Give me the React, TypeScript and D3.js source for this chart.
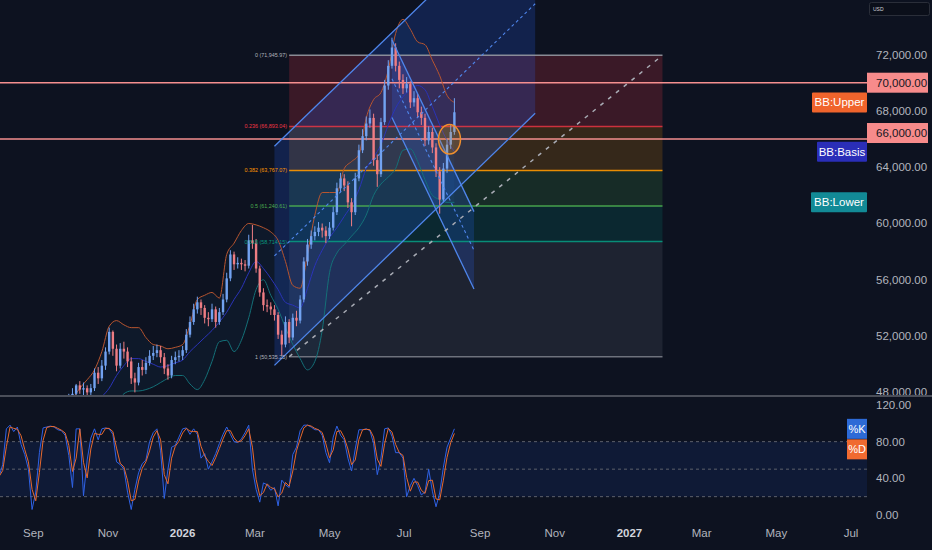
import React, { useEffect, useRef } from "react";
import * as d3 from "d3";

const WIDTH = 932;
const HEIGHT = 550;
const BG = "#0d1220";

// 3-day bars, prices in thousands of USD
const candleStart = new Date(2025, 8, 30);
const firstOpen = 47.3;
const closes = [
  47.6, 47.9, 48.5, 48.2, 48.3, 48.0, 48.3, 49.4, 49.0, 49.9,
  50.9, 52.3, 51.1, 49.9, 51.1, 50.9, 50.2, 49.0, 48.7, 49.8,
  49.6, 50.1, 50.6, 50.8, 51.0, 50.5, 49.7, 49.2, 50.3, 50.5,
  50.6, 51.0, 52.1, 53.0, 53.9, 54.4, 54.0, 53.3, 53.2, 53.9,
  53.0, 53.7, 54.6, 56.1, 57.8, 57.1, 57.2, 57.1, 57.0, 58.8,
  58.6, 56.8, 55.1, 54.2, 54.1, 53.9, 53.5, 52.1, 51.4, 53.0,
  51.9, 53.3, 53.1, 54.6, 57.3, 58.5, 59.1, 59.4, 59.7, 59.5,
  59.1, 59.7, 60.8, 62.5, 63.2, 62.7, 61.5, 60.8, 63.2, 65.2,
  66.2, 67.1, 67.5, 64.5, 63.5, 67.2, 69.8, 71.2, 72.5, 71.2,
  70.2, 69.6, 69.9, 68.6, 68.9, 67.9, 67.5, 65.9, 66.5, 65.4,
  63.7, 61.7, 63.9, 65.6, 66.5, 67.9,
];
const highs = [
  47.9, 48.3, 48.6, 48.8, 48.7, 48.5, 48.6, 49.7, 49.8, 50.3,
  51.2, 52.6, 52.4, 51.4, 51.5, 51.6, 51.2, 50.5, 49.4, 50.1,
  50.3, 50.5, 51.0, 51.3, 51.4, 51.3, 50.8, 50.0, 50.6, 50.9,
  51.0, 51.3, 52.5, 53.4, 54.3, 54.8, 54.6, 54.2, 53.7, 54.3,
  54.1, 54.0, 55.0, 56.5, 58.1, 58.0, 57.6, 57.5, 57.4, 59.2,
  59.9, 58.9, 57.0, 55.4, 54.6, 54.4, 54.2, 53.7, 52.4, 53.4,
  53.2, 53.6, 53.8, 54.9, 57.6, 58.9, 59.5, 59.8, 60.1, 60.0,
  59.8, 60.1, 61.2, 62.9, 63.6, 63.5, 63.0, 61.8, 63.6, 65.6,
  66.7, 67.6, 68.1, 67.8, 64.9, 67.5, 70.2, 71.6, 73.2, 72.8,
  71.5, 70.6, 70.4, 70.1, 69.4, 69.2, 68.3, 67.8, 66.9, 66.8,
  65.7, 64.0, 64.3, 66.0, 67.0, 68.9,
];
const lows = [
  47.0, 47.4, 47.7, 47.9, 47.8, 47.6, 47.8, 48.1, 48.6, 48.8,
  49.6, 50.7, 50.6, 49.5, 49.7, 50.4, 49.8, 48.6, 48.0, 48.5,
  49.2, 49.3, 49.9, 50.3, 50.5, 50.1, 49.3, 48.9, 49.0, 50.0,
  50.2, 50.3, 50.8, 51.9, 52.8, 53.6, 53.5, 52.9, 52.7, 53.0,
  52.6, 52.8, 53.5, 54.4, 55.9, 56.7, 56.8, 56.7, 56.6, 56.8,
  58.2, 56.5, 54.8, 53.8, 53.7, 53.5, 53.1, 51.8, 50.6, 51.2,
  51.5, 51.7, 52.7, 52.9, 54.4, 57.0, 58.2, 58.8, 59.1, 59.0,
  58.6, 58.9, 59.5, 60.6, 62.2, 62.3, 61.1, 59.8, 60.6, 63.0,
  65.0, 65.9, 66.8, 64.1, 62.6, 63.3, 67.0, 69.5, 71.0, 70.8,
  69.6, 69.2, 69.3, 68.2, 68.3, 67.5, 67.0, 65.5, 65.6, 65.0,
  63.3, 60.7, 61.5, 63.6, 65.3, 66.3,
];

// Bollinger Bands read on every other bar (odd bars)
const bbUpper = [
  47.5, 48.3, 48.9, 49.6, 50.9, 52.7, 53.1, 52.8, 52.6, 52.6,
  51.9, 51.4, 51.3, 51.1, 51.2, 51.4, 52.8, 54.6, 54.9, 55.1,
  54.7, 57.8, 58.6, 59.5, 60.0, 59.9, 59.7, 59.4, 58.8, 57.3,
  55.6, 55.4, 57.8, 60.6, 62.2, 62.2, 62.2, 63.9, 64.4, 64.9,
  67.5, 68.8, 69.3, 70.9, 73.5, 74.5, 73.8, 72.9, 72.7, 71.6,
  70.5, 69.1, 68.6,
];
const bbBasis = [
  46.8, 46.8, 46.9, 47.2, 47.7, 48.3, 49.2, 49.9, 50.4, 50.4,
  50.2, 50.0, 49.8, 49.9, 50.1, 50.3, 50.9, 51.4, 51.9, 52.4,
  53.0, 53.7, 54.6, 55.4, 56.5, 57.3, 56.8, 56.1, 55.3, 54.4,
  54.2, 54.0, 55.4, 57.0, 58.1, 59.0, 59.7, 60.5, 61.3, 62.4,
  63.9, 64.7, 65.6, 67.0, 68.2, 69.0, 69.5, 69.8, 69.5, 68.3,
  67.0, 65.9, 65.1,
];
const bbLower = [
  45.6, 45.5, 45.4, 45.4, 45.6, 46.1, 47.0, 47.9, 48.1, 48.1,
  48.2, 48.4, 48.7, 49.0, 49.2, 49.2, 48.6, 48.2, 48.9, 50.2,
  51.6, 51.7, 50.9, 51.7, 53.3, 55.3, 56.0, 54.9, 53.9, 52.6,
  51.4, 50.4, 49.6, 50.2, 52.4, 56.5, 57.9, 58.5, 59.1, 59.7,
  60.6, 62.0, 62.8, 63.3, 63.9, 65.2, 65.3, 64.4, 63.1, 62.0,
  61.7, 61.5, 61.5,
];

// Stochastic %K, 3-day samples
const stochStart = new Date(2025, 7, 4);
const stochK = [
  42, 55, 94, 98, 91, 96, 77, 66, 50, 6,
  25, 68, 95, 96, 97, 96, 93, 92, 87, 65,
  30, 94, 94, 21, 60, 84, 94, 82, 94, 95,
  94, 88, 58, 55, 50, 25, 6, 28, 46, 56,
  60, 80, 90, 94, 70, 18, 50, 74, 76, 85,
  94, 95, 88, 94, 88, 62, 67, 50, 58, 67,
  78, 88, 96, 88, 80, 79, 83, 90, 98, 50,
  28, 14, 35, 33, 27, 30, 10, 38, 33, 30,
  66, 74, 92, 98, 98, 96, 93, 93, 87, 68,
  57, 85, 97, 87, 82, 62, 48, 72, 93, 93,
  94, 92, 78, 44, 62, 94, 95, 86, 68, 68,
  62, 20, 32, 40, 32, 22, 25, 50, 26, 9,
  24, 52, 74, 84, 94,
];

const priceTicks = [72, 68, 64, 60, 56, 52, 48];
const stochTicks = [120, 80, 40, 0];
const stochBands = [80, 50, 20];
const timeTicks = [
  new Date(2025, 8, 1), new Date(2025, 10, 1), new Date(2026, 0, 1),
  new Date(2026, 2, 1), new Date(2026, 4, 1), new Date(2026, 6, 1),
  new Date(2026, 8, 1), new Date(2026, 10, 1), new Date(2027, 0, 1),
  new Date(2027, 2, 1), new Date(2027, 4, 1), new Date(2027, 6, 1),
];
const timeLabels = ["Sep", "Nov", "2026", "Mar", "May", "Jul", "Sep", "Nov", "2027", "Mar", "May", "Jul"];

// Fib retracement drawing
const fibLevels = [0, 0.236, 0.382, 0.5, 0.618, 1];
const fibColors = ["#787b86", "#f23645", "#ff9800", "#4caf50", "#089981", "#787b86"];
const fibHigh = 71945.97;
const fibLow = 50535.25;
const fibStart = new Date(2026, 2, 29);
const fibEnd = new Date(2027, 0, 28);

// horizontal lines (thousands)
const hLines = [70, 66];

// parallel channels: start/end dates, base line values, width
const riseChannel = { start: new Date(2026, 2, 17), end: new Date(2026, 9, 16), from: 49.92, to: 67.83, width: 15.56 };
const fallChannel = { start: new Date(2026, 5, 21), end: new Date(2026, 7, 27), from: 73.03, to: 60.84, width: -5.5 };

const marker = { date: new Date(2026, 7, 7), price: 65.98, days: 9, span: 1.05 };

const App = () => {
  const svgRef = useRef<SVGSVGElement | null>(null);

  useEffect(() => {
    if (!svgRef.current) return;
    const svg = d3.select(svgRef.current);
    svg.selectAll("*").remove();

    const paneRight = 867;
    const priceBottom = 395;
    const stochTop = 398;
    const stochBottom = 521;
    const font = "Liberation Sans, Arial, sans-serif";

    const x = d3
      .scaleTime()
      .domain([new Date(2025, 8, 1), new Date(2027, 6, 1)])
      .range([33.3, 851]);
    const y = d3.scaleLinear().domain([48, 72]).range([392.4, 54.55]);
    const ys = d3.scaleLinear().domain([0, 120]).range([515, 405]);

    const candleDates = closes.map((_, i) => d3.timeDay.offset(candleStart, i * 3));
    const opens = closes.map((_, i) => (i === 0 ? firstOpen : closes[i - 1]));
    const bbDates = bbUpper.map((_, j) => candleDates[2 * j + 1]);
    const stochDates = stochK.map((_, j) => d3.timeDay.offset(stochStart, j * 3));
    // %D = short moving average of %K
    const stochD = stochK.map((_, j) => d3.mean(stochK.slice(Math.max(0, j - 1), j + 1)) as number);

    svg.append("rect").attr("width", WIDTH).attr("height", HEIGHT).attr("fill", BG);

    const defs = svg.append("defs");
    defs.append("clipPath").attr("id", "price-clip")
      .append("rect").attr("x", 0).attr("y", 0).attr("width", paneRight).attr("height", priceBottom);
    defs.append("clipPath").attr("id", "stoch-clip")
      .append("rect").attr("x", 0).attr("y", stochTop).attr("width", paneRight).attr("height", stochBottom - stochTop);
    defs.append("clipPath").attr("id", "axis-clip")
      .append("rect").attr("x", paneRight).attr("y", 0).attr("width", WIDTH - paneRight).attr("height", priceBottom);

    const price = svg.append("g").attr("clip-path", "url(#price-clip)");

    // fib zones
    const fibVal = (lvl: number) => fibHigh - lvl * (fibHigh - fibLow);
    const fx0 = x(fibStart);
    const fx1 = x(fibEnd);
    fibLevels.slice(1).forEach((lvl, k) => {
      const top = y(fibVal(fibLevels[k]) / 1000);
      const bottom = y(fibVal(lvl) / 1000);
      price.append("rect")
        .attr("x", fx0).attr("y", top)
        .attr("width", fx1 - fx0).attr("height", bottom - top)
        .attr("fill", fibColors[k + 1]).attr("fill-opacity", k === 0 ? 0.2 : 0.17);
    });

    // channel fills
    const pt = d3.line<[Date, number]>().x((d) => x(d[0])).y((d) => y(d[1]));
    [riseChannel, fallChannel].forEach((c) => {
      price.append("path")
        .attr("d", pt([
          [c.start, c.from], [c.end, c.to], [c.end, c.to + c.width], [c.start, c.from + c.width],
        ]) + "Z")
        .attr("fill", "#2962ff").attr("fill-opacity", 0.2);
    });

    // Bollinger background
    price.append("path")
      .datum(bbDates.map((d, j) => j))
      .attr("d", d3.area<number>().x((j) => x(bbDates[j])).y0((j) => y(bbLower[j])).y1((j) => y(bbUpper[j])).curve(d3.curveMonotoneX))
      .attr("fill", "#2196f3").attr("fill-opacity", 0.05);

    // fib level lines
    fibLevels.forEach((lvl, k) => {
      price.append("line")
        .attr("x1", fx0).attr("x2", fx1)
        .attr("y1", y(fibVal(lvl) / 1000)).attr("y2", y(fibVal(lvl) / 1000))
        .attr("stroke", k === 0 ? "#9598a1" : fibColors[k]).attr("stroke-width", 1.5)
        .attr("stroke-opacity", k === 1 ? 0.8 : 0.9);
    });

    // horizontal lines
    hLines.forEach((v) => {
      price.append("line")
        .attr("x1", 0).attr("x2", paneRight)
        .attr("y1", y(v)).attr("y2", y(v))
        .attr("stroke", "#f58f8f").attr("stroke-width", 1.6);
    });

    // Bollinger lines
    const bbLine = (vals: number[]) =>
      d3.line<number>().x((j) => x(bbDates[j])).y((j) => y(vals[j])).curve(d3.curveMonotoneX)(vals.map((_, j) => j));
    [
      { vals: bbUpper, color: "#b8552f" },
      { vals: bbBasis, color: "#2a33b8" },
      { vals: bbLower, color: "#147078" },
    ].forEach((b) => {
      price.append("path").attr("d", bbLine(b.vals)).attr("fill", "none")
        .attr("stroke", b.color).attr("stroke-width", 1);
    });

    // candles
    const bodyW = 2.4;
    const candles = price.append("g");
    const idx = closes.map((_, i) => i);
    const col = (i: number) => (closes[i] >= opens[i] ? "#72a2f0" : "#ee7d83");
    candles.selectAll("line").data(idx).join("line")
      .attr("x1", (i) => x(candleDates[i])).attr("x2", (i) => x(candleDates[i]))
      .attr("y1", (i) => y(highs[i])).attr("y2", (i) => y(lows[i]))
      .attr("stroke", col).attr("stroke-width", 1);
    candles.selectAll("rect").data(idx).join("rect")
      .attr("x", (i) => x(candleDates[i]) - bodyW / 2)
      .attr("width", bodyW)
      .attr("y", (i) => y(Math.max(opens[i], closes[i])))
      .attr("height", (i) => Math.max(1, Math.abs(y(opens[i]) - y(closes[i]))))
      .attr("fill", col);

    // channel lines
    [riseChannel, fallChannel].forEach((c) => {
      price.append("path").attr("d", pt([[c.start, c.from], [c.end, c.to]]))
        .attr("stroke", "#4f86ec").attr("stroke-width", 1.3).attr("fill", "none");
      price.append("path").attr("d", pt([[c.start, c.from + c.width], [c.end, c.to + c.width]]))
        .attr("stroke", "#4f86ec").attr("stroke-width", 1.3).attr("fill", "none");
      price.append("path").attr("d", pt([[c.start, c.from + c.width / 2], [c.end, c.to + c.width / 2]]))
        .attr("stroke", "#4f86ec").attr("stroke-width", 1.1).attr("stroke-dasharray", "3 3").attr("fill", "none");
    });

    // fib trend line
    price.append("path")
      .attr("d", pt([[fibStart, fibLow / 1000], [fibEnd, fibHigh / 1000]]))
      .attr("stroke", "#a9acb5").attr("stroke-width", 1.5).attr("stroke-dasharray", "4 6").attr("fill", "none");

    // ellipse marker
    const cx = x(marker.date);
    price.append("ellipse")
      .attr("cx", cx).attr("cy", y(marker.price))
      .attr("rx", x(d3.timeDay.offset(marker.date, marker.days)) - cx)
      .attr("ry", y(marker.price - marker.span) - y(marker.price))
      .attr("fill", "#ff9800").attr("fill-opacity", 0.2)
      .attr("stroke", "#f0902e").attr("stroke-width", 1.5);

    // fib labels
    fibLevels.forEach((lvl, k) => {
      price.append("text")
        .attr("x", fx0 - 2).attr("y", y(fibVal(lvl) / 1000))
        .attr("text-anchor", "end").attr("dominant-baseline", "central")
        .attr("fill", k === 0 || k === 5 ? "#b2b5be" : fibColors[k])
        .style("font-family", font).style("font-size", "5.4px")
        .text(`${lvl} (${d3.format(",.2f")(fibVal(lvl))})`);
    });

    // BB labels
    [
      { text: "BB:Upper", v: bbUpper[bbUpper.length - 1], fill: "#f0642c", w: 55 },
      { text: "BB:Basis", v: bbBasis[bbBasis.length - 1], fill: "#2a2eb8", w: 50 },
      { text: "BB:Lower", v: bbLower[bbLower.length - 1], fill: "#128a96", w: 56 },
    ].forEach((b) => {
      const cy = y(b.v);
      svg.append("rect").attr("x", paneRight - b.w).attr("y", cy - 10).attr("width", b.w).attr("height", 20)
        .attr("fill", b.fill).attr("rx", 1);
      svg.append("text").attr("x", paneRight - b.w / 2).attr("y", cy)
        .attr("text-anchor", "middle").attr("dominant-baseline", "central")
        .attr("fill", "#ffffff").style("font-family", font).style("font-size", "11.5px")
        .text(b.text);
    });

    // price axis
    const axis = svg.append("g").attr("clip-path", "url(#axis-clip)");
    axis.selectAll("text.tick").data(priceTicks).join("text")
      .attr("class", "tick")
      .attr("x", 876).attr("y", (d) => y(d))
      .attr("dominant-baseline", "central")
      .attr("fill", "#b2b5be").style("font-family", font).style("font-size", "11.5px")
      .text((d) => d3.format(",.2f")(d * 1000));
    hLines.forEach((v, k) => {
      const cy = y(v) + (k === 1 ? -6 : 0);
      axis.append("rect").attr("x", paneRight).attr("y", cy - 10).attr("width", 61).attr("height", 20)
        .attr("fill", "#f78b8b");
      axis.append("text").attr("x", 876).attr("y", cy)
        .attr("dominant-baseline", "central")
        .attr("fill", "#131722").style("font-family", font).style("font-size", "11.5px")
        .text(d3.format(",.2f")(v * 1000));
    });

    // USD box
    svg.append("rect").attr("x", 869.5).attr("y", 2.5).attr("width", 60).attr("height", 13).attr("rx", 2)
      .attr("fill", "#0b0f1a").attr("stroke", "#2a2e39");
    svg.append("text").attr("x", 873).attr("y", 9).attr("dominant-baseline", "central")
      .attr("fill", "#d1d4dc").style("font-family", font).style("font-size", "5px").text("USD");

    // pane separator
    svg.append("rect").attr("x", 0).attr("y", 395).attr("width", WIDTH).attr("height", 2).attr("fill", "#4a4e59");

    // stochastic pane
    const stoch = svg.append("g").attr("clip-path", "url(#stoch-clip)");
    stoch.append("rect")
      .attr("x", 0).attr("width", paneRight)
      .attr("y", ys(80)).attr("height", ys(20) - ys(80))
      .attr("fill", "#2962ff").attr("fill-opacity", 0.1);
    stochBands.forEach((v) => {
      stoch.append("line").attr("x1", 0).attr("x2", paneRight).attr("y1", ys(v)).attr("y2", ys(v))
        .attr("stroke", "#5d606b").attr("stroke-width", 1).attr("stroke-dasharray", "3 3");
    });
    const sLine = (vals: number[]) =>
      d3.line<number>().x((j) => x(stochDates[j])).y((j) => ys(vals[j]))(vals.map((_, j) => j));
    stoch.append("path").attr("d", sLine(stochK)).attr("fill", "none").attr("stroke", "#2f62e6").attr("stroke-width", 1);
    stoch.append("path").attr("d", sLine(stochD)).attr("fill", "none").attr("stroke", "#e8692e").attr("stroke-width", 1);

    svg.selectAll("text.stick").data(stochTicks).join("text")
      .attr("class", "stick")
      .attr("x", 876).attr("y", (d) => ys(d))
      .attr("dominant-baseline", "central")
      .attr("fill", "#b2b5be").style("font-family", font).style("font-size", "11.5px")
      .text((d) => d3.format(".2f")(d));

    const kCy = ys(stochK[stochK.length - 1]);
    const dCy = Math.max(ys(stochD[stochD.length - 1]), kCy + 20.5);
    [
      { text: "%K", cy: kCy, fill: "#2d6ad6" },
      { text: "%D", cy: dCy, fill: "#f06a30" },
    ].forEach((b) => {
      svg.append("rect").attr("x", 847).attr("y", b.cy - 10).attr("width", 20).attr("height", 20).attr("fill", b.fill);
      svg.append("text").attr("x", 857).attr("y", b.cy)
        .attr("text-anchor", "middle").attr("dominant-baseline", "central")
        .attr("fill", "#ffffff").style("font-family", font).style("font-size", "11px").text(b.text);
    });

    // time axis
    svg.selectAll("text.time").data(timeTicks).join("text")
      .attr("class", "time")
      .attr("x", (d) => x(d)).attr("y", 533)
      .attr("text-anchor", "middle").attr("dominant-baseline", "central")
      .attr("fill", (_, i) => (timeLabels[i].length === 4 ? "#d1d4dc" : "#b2b5be"))
      .style("font-weight", (_, i) => (timeLabels[i].length === 4 ? "bold" : "normal"))
      .style("font-family", font).style("font-size", "11.5px")
      .text((_, i) => timeLabels[i]);
  }, []);

  return (
    <div style={{ position: "fixed", left: 0, top: 0, width: WIDTH, height: HEIGHT, background: BG }}>
      <svg ref={svgRef} width={WIDTH} height={HEIGHT} />
    </div>
  );
};

export default App;
